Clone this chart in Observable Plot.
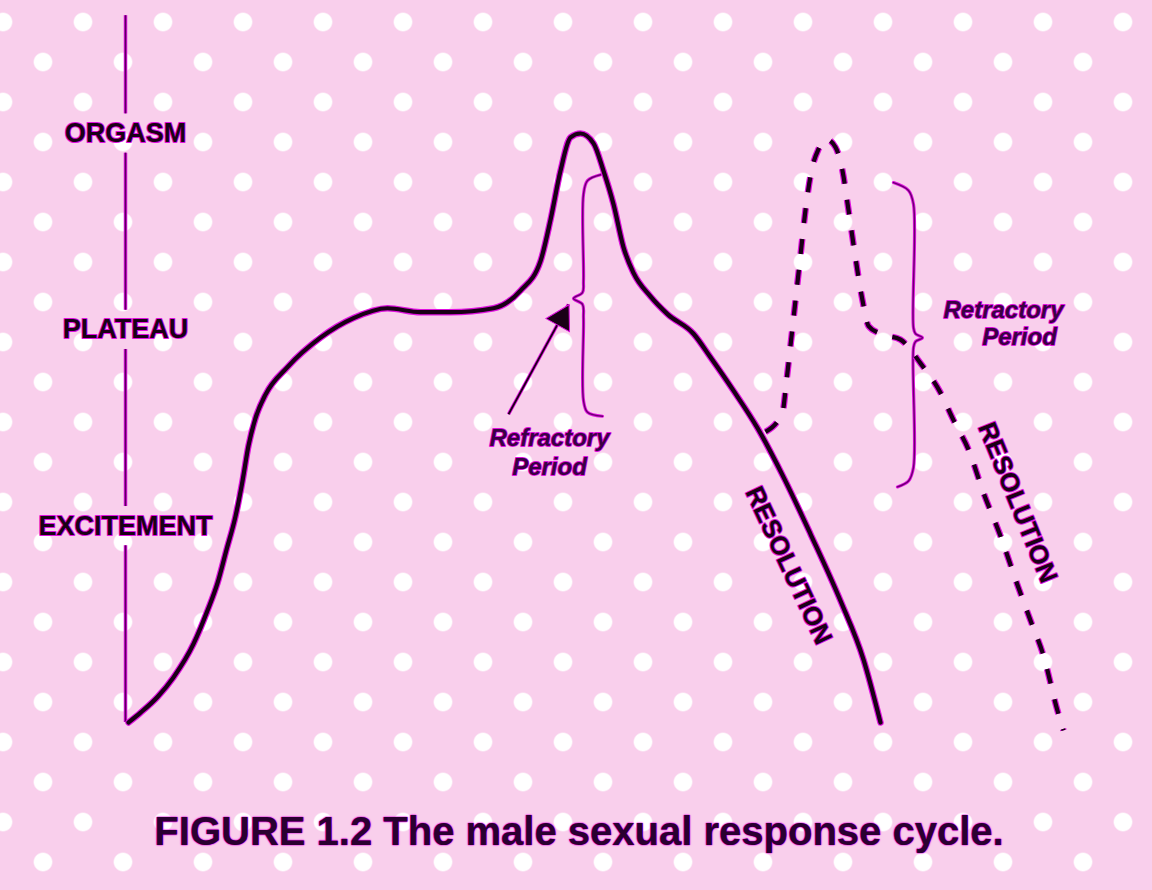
<!DOCTYPE html>
<html>
<head>
<meta charset="utf-8">
<script src="https://cdn.jsdelivr.net/npm/d3@7"></script>
<script src="https://cdn.jsdelivr.net/npm/@observablehq/plot@0.6"></script>
<style>
  html, body { margin: 0; padding: 0; }
  body {
    width: 1152px; height: 890px; overflow: hidden;
    background-color: #f9cfec;
    background-image:
      radial-gradient(circle at center, #ffffff 0, #ffffff 8.5px, rgba(255,255,255,0) 10px),
      radial-gradient(circle at center, #ffffff 0, #ffffff 8.5px, rgba(255,255,255,0) 10px);
    background-size: 80px 80px, 80px 80px;
    background-position: -37px -18px, 3px 22px;
    font-family: "Liberation Sans", Arial, Helvetica, sans-serif;
  }
  #caption {
    width: 1152px; text-align: center; padding-left: 6px; box-sizing: border-box;
    font-size: 40px; line-height: 39px; font-weight: bold; color: #2a0030;
    margin-top: 12px;
    text-shadow: 0 0 1px #e000e0, 0 0 1px #e000e0, 0 0 2px #e000e0;
  }
</style>
</head>
<body>
<div id="chart"></div>
<div id="caption">FIGURE 1.2 The male sexual response cycle.</div>
<script>
// Response levels on the vertical axis
const levelNames = ["EXCITEMENT", "PLATEAU", "ORGASM"];
const levelValues = [1, 2, 3];
const axisTop = 3.6;

// First (solid) response cycle: time vs. arousal level
const cycleTime  = [3, 15, 32, 48, 68, 82, 92, 101, 110, 117, 123, 130, 140, 162, 195, 228, 262, 295, 325, 368, 395, 415, 425, 435, 445, 455, 468, 478, 488, 498, 508, 525, 542, 568, 585, 608, 632, 658, 685, 715, 738, 755];
const cycleLevel = [0, 0.05, 0.13, 0.23, 0.4, 0.57, 0.71, 0.88, 1.05, 1.23, 1.41, 1.55, 1.67, 1.81, 1.96, 2.06, 2.11, 2.09, 2.09, 2.11, 2.2, 2.35, 2.56, 2.81, 2.98, 3.0, 2.95, 2.81, 2.64, 2.42, 2.29, 2.17, 2.08, 1.98, 1.86, 1.69, 1.5, 1.25, 0.96, 0.62, 0.32, 0];

// Second (dashed) response after the refractory period
const repeatTime  = [640, 657, 661, 665, 670, 675, 680, 686, 693, 701, 710, 717, 723, 729, 737, 743, 755, 775, 795, 815, 828, 843, 858, 875, 892, 905, 918, 932, 938];
const repeatLevel = [1.48, 1.58, 1.74, 1.92, 2.15, 2.38, 2.61, 2.81, 2.92, 2.97, 2.93, 2.81, 2.61, 2.4, 2.15, 2.02, 1.98, 1.95, 1.83, 1.68, 1.54, 1.39, 1.17, 0.95, 0.7, 0.52, 0.34, 0.06, -0.04];

// Refractory-period braces
const brace1Time  = [475, 462, 458, 458, 457, 448, 457, 458, 458, 462, 477];
const brace1Level = [2.79, 2.76, 2.69, 2.25, 2.19, 2.16, 2.13, 2.06, 1.64, 1.58, 1.56];
const brace2Time  = [768, 783, 788, 788, 790, 797, 790, 788, 788, 783, 772];
const brace2Level = [2.75, 2.71, 2.64, 2.01, 1.98, 1.96, 1.94, 1.91, 1.3, 1.23, 1.2];

// Arrow pointing at the first brace
const arrowFrom = {t: 383, level: 1.57};
const arrowTo   = {t: 443, level: 2.13};

// Annotations
const noteText  = ["Refractory", "Period", "Retractory", "Period"];
const noteTime  = [424, 424, 878, 894];
const noteLevel = [1.45, 1.3, 2.1, 1.96];
const resText   = ["RESOLUTION", "RESOLUTION"];
const resTime   = [663, 892];
const resLevel  = [0.8, 1.12];
const resAngle  = [65, 68];

const cycle  = cycleTime.map((t, i) => ({t, level: cycleLevel[i]}));
const repeat = repeatTime.map((t, i) => ({t, level: repeatLevel[i]}));
const brace1 = brace1Time.map((t, i) => ({t, level: brace1Level[i]}));
const brace2 = brace2Time.map((t, i) => ({t, level: brace2Level[i]}));
const levels = levelValues.map((v, i) => ({level: v, name: levelNames[i]}));
const notes  = noteText.map((s, i) => ({s, t: noteTime[i], level: noteLevel[i]}));
const res    = resText.map((s, i) => ({s, t: resTime[i], level: resLevel[i], a: resAngle[i]}));

// Axis line broken around each level label
const gap = 0.1;
const stops = [0, ...levelValues.flatMap(v => [v - gap, v + gap]), axisTop];
const axisSegs = d3.range(0, stops.length, 2).map(i => ({y1: stops[i], y2: stops[i + 1]}));

const ink = "#1a0016";
const halo = "#e010e0";
const textFont = "Liberation Sans, Arial, Helvetica, sans-serif";

const chart = Plot.plot({
  width: 1152,
  height: 800,
  margin: 0,
  x: {domain: [0, 950], range: [125, 1075], axis: null},
  y: {domain: [0, 3], range: [722, 133], axis: null},
  style: {background: "transparent", overflow: "visible"},
  marks: [
    Plot.ruleX(axisSegs, {x: 0, y1: "y1", y2: "y2", stroke: halo, strokeWidth: 3.5}),
    Plot.ruleX(axisSegs, {x: 0, y1: "y1", y2: "y2", stroke: "#5a0060", strokeWidth: 1.6}),
    Plot.text(levels, {x: 0, y: "level", text: "name", fontSize: 27, fontWeight: "bold",
      fontFamily: textFont, fill: ink, stroke: halo, strokeWidth: 2, paintOrder: "stroke", textAnchor: "middle"}),
    // braces
    Plot.line(brace1, {x: "t", y: "level", curve: "catmull-rom", stroke: halo, strokeWidth: 3.2}),
    Plot.line(brace1, {x: "t", y: "level", curve: "catmull-rom", stroke: "#6a0070", strokeWidth: 1.4}),
    Plot.line(brace2, {x: "t", y: "level", curve: "catmull-rom", stroke: halo, strokeWidth: 3.2}),
    Plot.line(brace2, {x: "t", y: "level", curve: "catmull-rom", stroke: "#6a0070", strokeWidth: 1.4}),
    // arrow
    Plot.link([{a: arrowFrom, b: arrowTo}], {x1: d => d.a.t, y1: d => d.a.level, x2: d => d.b.t, y2: d => d.b.level,
      stroke: halo, strokeWidth: 3.5}),
    Plot.link([{a: arrowFrom, b: arrowTo}], {x1: d => d.a.t, y1: d => d.a.level, x2: d => d.b.t, y2: d => d.b.level,
      stroke: ink, strokeWidth: 1.8}),
    Plot.dot([arrowTo], {x: "t", y: "level", symbol: "triangle", r: 10, rotate: 29, dx: -7, dy: 14,
      fill: ink, stroke: halo, strokeWidth: 1}),
    // second (dashed) cycle
    Plot.line(repeat, {x: "t", y: "level", curve: "monotone-x", stroke: halo, strokeWidth: 6.5,
      strokeDasharray: "15,16", strokeLinecap: "butt"}),
    Plot.line(repeat, {x: "t", y: "level", curve: "monotone-x", stroke: ink, strokeWidth: 4.2,
      strokeDasharray: "15,16", strokeLinecap: "butt"}),
    // main cycle
    Plot.line(cycle, {x: "t", y: "level", curve: "monotone-x", stroke: halo, strokeWidth: 6.5}),
    Plot.line(cycle, {x: "t", y: "level", curve: "monotone-x", stroke: ink, strokeWidth: 4.2}),
    // annotations
    Plot.text(notes, {x: "t", y: "level", text: "s", fontSize: 24, fontWeight: "bold", fontStyle: "italic",
      fontFamily: textFont, fill: "#3a0044", stroke: halo, strokeWidth: 1.8, paintOrder: "stroke", textAnchor: "middle"}),
    Plot.text(res, {x: "t", y: "level", text: "s", rotate: "a", fontSize: 26, fontWeight: "bold",
      fontFamily: textFont, fill: ink, stroke: halo, strokeWidth: 2, paintOrder: "stroke", textAnchor: "middle"})
  ]
});
document.getElementById("chart").appendChild(chart);
</script>
</body>
</html>
